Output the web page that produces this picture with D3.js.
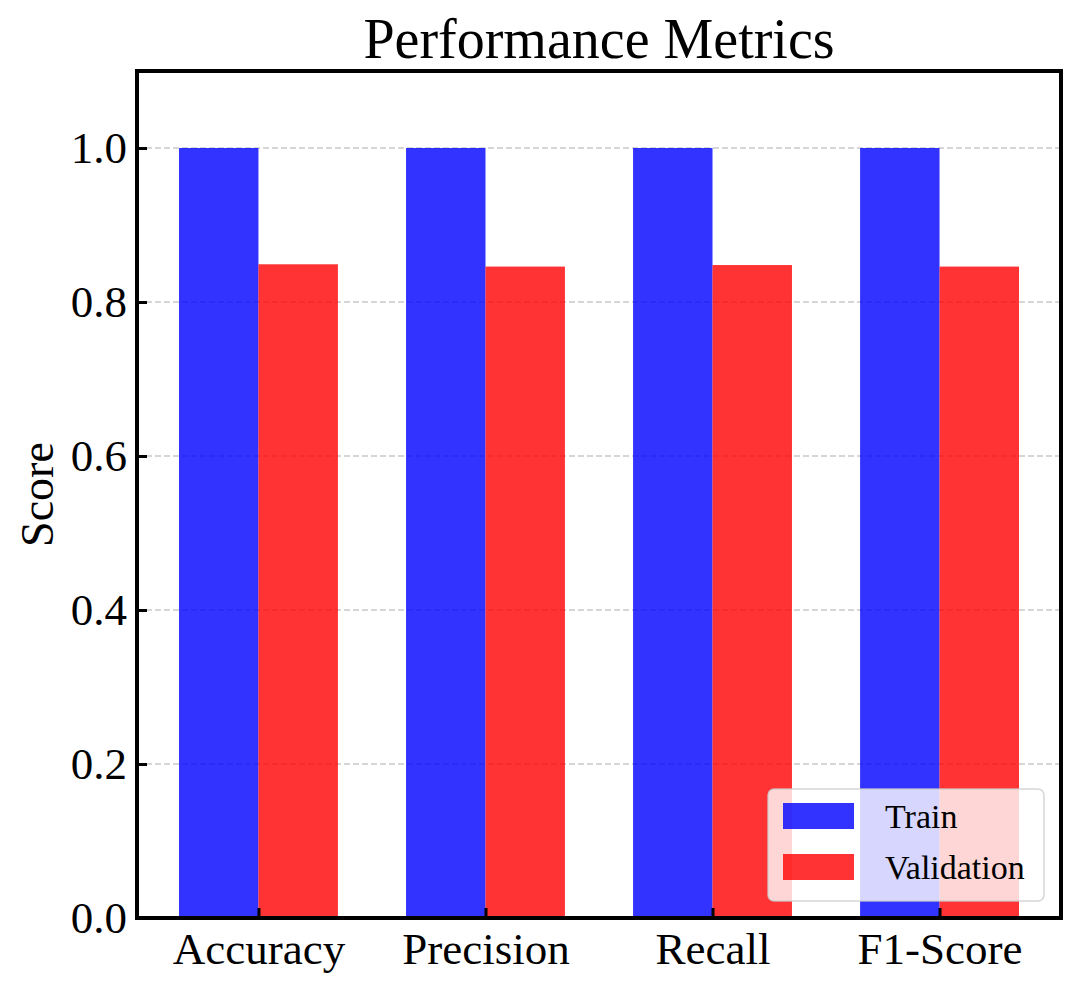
<!DOCTYPE html>
<html>
<head>
<meta charset="utf-8">
<script src="https://cdn.jsdelivr.net/npm/d3@7"></script>
<style>
  html, body { margin: 0; padding: 0; background: #fff; }
  svg { display: block; font-family: "Liberation Serif", "Times New Roman", serif; }
</style>
</head>
<body>
<svg id="chart" width="1080" height="989"></svg>
<script>
// values
const categories       = ['Accuracy', 'Precision', 'Recall', 'F1-Score'];
const trainScores      = [1.0, 1.0, 1.0, 1.0];
const validationScores = [0.849, 0.846, 0.848, 0.846];
const seriesNames      = ['Train', 'Validation'];
const seriesColors     = ['#0000ff', '#ff0000'];
const yTicks           = [0.0, 0.2, 0.4, 0.6, 0.8, 1.0];

const box = { left: 137, right: 1061, top: 71, bottom: 918 };
const barWidth = 0.35;

const svg = d3.select('#chart');

const x = d3.scaleLinear()
  .domain([-0.535, categories.length - 1 + 0.535])
  .range([box.left, box.right]);

const y = d3.scaleLinear()
  .domain([0, 1.1])
  .range([box.bottom, box.top]);

// grid lines under the bars
svg.append('g')
  .selectAll('line')
  .data(yTicks)
  .join('line')
    .attr('x1', box.left)
    .attr('x2', box.right)
    .attr('y1', d => y(d))
    .attr('y2', d => y(d))
    .attr('stroke', '#b0b0b0')
    .attr('stroke-opacity', 0.7)
    .attr('stroke-width', 1.5)
    .attr('stroke-dasharray', '6,3');

// bars
const series = [trainScores, validationScores];

series.forEach((values, s) =>
{
  const offset = (s === 0 ? -0.5 : 0.5) * barWidth;

  svg.append('g')
    .selectAll('rect')
    .data(values)
    .join('rect')
      .attr('x', (d, i) => x(i + offset - barWidth / 2))
      .attr('width', (d, i) => x(i + offset + barWidth / 2) - x(i + offset - barWidth / 2))
      .attr('y', d => y(d))
      .attr('height', d => y(0) - y(d))
      .attr('fill', seriesColors[s])
      .attr('fill-opacity', 0.8);
});

// y axis, ticks pointing inward
const yAxis = svg.append('g')
  .attr('transform', `translate(${ box.left },0)`)
  .call(d3.axisLeft(y).tickValues(yTicks).tickFormat(d3.format('.1f')).tickSizeInner(-10).tickSizeOuter(0).tickPadding(10));

yAxis.select('.domain').remove();
yAxis.selectAll('line').attr('stroke', '#000').attr('stroke-width', 3);
yAxis.selectAll('text')
  .attr('font-size', 45)
  .attr('font-family', '"Liberation Serif", serif')
  .attr('fill', '#000');

// x axis, ticks pointing inward
const xAxis = svg.append('g')
  .attr('transform', `translate(0,${ box.bottom })`)
  .call(d3.axisBottom(x).tickValues(d3.range(categories.length)).tickFormat(i => categories[i]).tickSizeInner(-10).tickSizeOuter(0).tickPadding(14));

xAxis.select('.domain').remove();
xAxis.selectAll('line').attr('stroke', '#000').attr('stroke-width', 3);
xAxis.selectAll('text')
  .attr('font-size', 45)
  .attr('font-family', '"Liberation Serif", serif')
  .attr('fill', '#000');

// frame
svg.append('rect')
  .attr('x', box.left)
  .attr('y', box.top)
  .attr('width', box.right - box.left)
  .attr('height', box.bottom - box.top)
  .attr('fill', 'none')
  .attr('stroke', '#000')
  .attr('stroke-width', 4);

// title and axis label
svg.append('text')
  .text('Performance Metrics')
  .attr('x', (box.left + box.right) / 2)
  .attr('y', 58)
  .attr('text-anchor', 'middle')
  .attr('font-size', 56)
  .attr('fill', '#000');

svg.append('text')
  .text('Score')
  .attr('transform', `translate(53,${ (box.top + box.bottom) / 2 }) rotate(-90)`)
  .attr('text-anchor', 'middle')
  .attr('font-size', 46)
  .attr('fill', '#000');

// legend
const legend = svg.append('g');

legend.append('rect')
  .attr('x', 768)
  .attr('y', 789)
  .attr('width', 276)
  .attr('height', 112)
  .attr('rx', 6)
  .attr('fill', '#fff')
  .attr('fill-opacity', 0.8)
  .attr('stroke', '#cccccc')
  .attr('stroke-opacity', 0.8)
  .attr('stroke-width', 1.5);

const item = legend.selectAll('g.item')
  .data(seriesNames)
  .join('g')
    .attr('class', 'item')
    .attr('transform', (d, i) => `translate(783,${ 803 + i * 51 })`);

item.append('rect')
  .attr('width', 71)
  .attr('height', 26)
  .attr('fill', (d, i) => seriesColors[i])
  .attr('fill-opacity', 0.8);

item.append('text')
  .text(d => d)
  .attr('x', 102)
  .attr('y', 25)
  .attr('font-size', 34)
  .attr('fill', '#000');
</script>
</body>
</html>
